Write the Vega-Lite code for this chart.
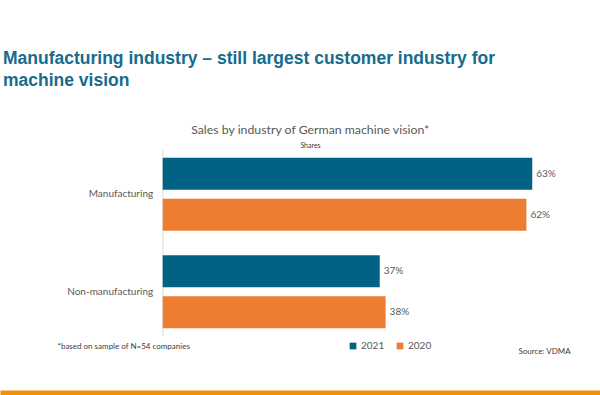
{
  "$schema": "https://vega.github.io/schema/vega-lite/v6.json",
  "width": 600,
  "height": 186,
  "autosize": {"type": "none"},
  "padding": {"left": 0, "top": 150, "right": 0, "bottom": 59},
  "background": "white",
  "config": {"view": {"stroke": null}, "font": "Lato"},
  "title": {
    "text": ["Manufacturing industry – still largest customer industry for", "machine vision"],
    "anchor": "start",
    "frame": "group",
    "dx": 3,
    "offset": 34,
    "font": "Liberation Sans",
    "fontSize": 17.5,
    "fontWeight": "bold",
    "color": "#176b8c",
    "lineHeight": 21.5
  },
  "data": {
    "values": [
      {"industry": "Manufacturing", "year": "2021", "share": 0.63},
      {"industry": "Manufacturing", "year": "2020", "share": 0.62},
      {"industry": "Non-manufacturing", "year": "2021", "share": 0.37},
      {"industry": "Non-manufacturing", "year": "2020", "share": 0.38}
    ]
  },
  "layer": [
    {
      "mark": {"type": "rule", "color": "#e8e8e8", "strokeWidth": 1},
      "encoding": {
        "x": {"datum": 0, "type": "quantitative", "axis": null}
      }
    },
    {
      "mark": {"type": "bar"},
      "encoding": {
        "y": {
          "field": "industry",
          "type": "nominal",
          "sort": ["Manufacturing", "Non-manufacturing"],
          "scale": {"paddingInner": 0.25, "paddingOuter": 0.08},
          "axis": {
            "orient": "left",
            "offset": -162.7,
            "domain": false,
            "ticks": false,
            "labelPadding": 10,
            "labelFontSize": 10,
            "labelColor": "#595959",
            "labelFont": "Lato",
            "title": "Sales by industry of German machine vision*",
            "titleAngle": 0,
            "titleX": 147,
            "titleY": -17,
            "titleAlign": "center",
            "titleBaseline": "alphabetic",
            "titleFontSize": 12.3,
            "titleFontWeight": "normal",
            "titleColor": "#595959",
            "titleFont": "Lato"
          }
        },
        "yOffset": {"field": "year", "sort": ["2021", "2020"], "scale": {"paddingInner": 0.22}},
        "x": {
          "field": "share",
          "type": "quantitative",
          "scale": {"domain": [-0.2774, 0.7455], "nice": false, "zero": false},
          "axis": {
            "orient": "bottom",
            "offset": 57,
            "domainColor": "#f39200",
            "domainWidth": 6,
            "domainCap": "butt",
            "ticks": false,
            "labels": false,
            "grid": false,
            "title": "*based on sample of N=54 companies",
            "titleX": 57,
            "titleY": -45,
            "titleAlign": "left",
            "titleBaseline": "alphabetic",
            "titleFontSize": 8,
            "titleFontWeight": "normal",
            "titleColor": "#404040",
            "titleFont": "Lato"
          }
        },
        "x2": {"datum": 0},
        "color": {
          "field": "year",
          "type": "nominal",
          "scale": {"domain": ["2021", "2020"], "range": ["#006384", "#ed7d31"]},
          "legend": {
            "orient": "none",
            "legendX": 348,
            "legendY": 191,
            "direction": "horizontal",
            "title": null,
            "symbolType": "square",
            "symbolSize": 45,
            "symbolStrokeWidth": 0,
            "labelFontSize": 10,
            "labelColor": "#595959",
            "labelFont": "Lato",
            "columnPadding": 10,
            "labelOffset": 3,
            "padding": 0
          }
        }
      }
    },
    {
      "mark": {"type": "text", "align": "left", "dx": 4, "fontSize": 10, "color": "#595959", "font": "Lato"},
      "encoding": {
        "y": {
          "field": "industry",
          "type": "nominal",
          "sort": ["Manufacturing", "Non-manufacturing"],
          "axis": {
            "orient": "right",
            "domain": false,
            "ticks": false,
            "labels": false,
            "grid": false,
            "title": "Source: VDMA",
            "titleAngle": 0,
            "titleX": -82,
            "titleY": 203,
            "titleAlign": "left",
            "titleBaseline": "alphabetic",
            "titleFontSize": 8,
            "titleFontWeight": "normal",
            "titleColor": "#404040",
            "titleFont": "Lato"
          }
        },
        "yOffset": {"field": "year", "sort": ["2021", "2020"]},
        "x": {
          "field": "share",
          "type": "quantitative",
          "axis": {
            "orient": "top",
            "domain": false,
            "ticks": false,
            "labels": false,
            "grid": false,
            "title": "Shares",
            "titleX": 310,
            "titleY": -3,
            "titleAlign": "center",
            "titleBaseline": "alphabetic",
            "titleFontSize": 7,
            "titleFontWeight": "normal",
            "titleColor": "#404040",
            "titleFont": "Lato"
          }
        },
        "text": {"field": "share", "type": "quantitative", "format": ".0%"}
      }
    }
  ],
  "resolve": {"axis": {"x": "independent", "y": "independent"}}
}
